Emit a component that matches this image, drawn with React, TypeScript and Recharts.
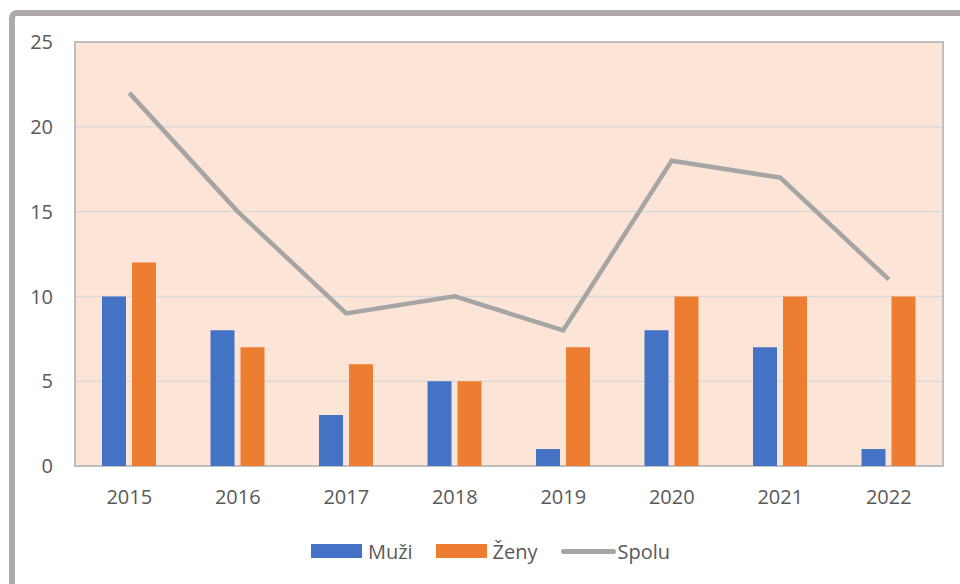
import React from 'react';
import * as R from 'recharts';
import { ComposedChart, Bar, Line, XAxis, YAxis, CartesianGrid, Legend } from 'recharts';

const years = ['2015', '2016', '2017', '2018', '2019', '2020', '2021', '2022'];
const muzi = [10, 8, 3, 5, 1, 8, 7, 1];
const zeny = [12, 7, 6, 5, 7, 10, 10, 10];
const spolu = [22, 15, 9, 10, 8, 18, 17, 11];
const yTicks = [0, 5, 10, 15, 20, 25];
const seriesNames = ['Muži', 'Ženy', 'Spolu'];

const data = years.map((y, i) => ({ year: y, [seriesNames[0]]: muzi[i], [seriesNames[1]]: zeny[i], [seriesNames[2]]: spolu[i] }));

const FONT = '"Open Sans", "Noto Sans", sans-serif';
const TEXT = '#595959';

function PlotFrame() {
  const hook = (R as any).usePlotArea;
  const area = hook ? hook() : undefined;
  if (!area) return null;
  return (
    <rect x={area.x} y={area.y} width={area.width} height={area.height} fill="none" stroke="#BFBFBF" strokeWidth={2} />
  );
}

const renderLegend = (props: any) => {
  const payload = [...(props.payload || [])].sort(
    (a: any, b: any) => seriesNames.indexOf(a.value) - seriesNames.indexOf(b.value)
  );
  return (
    <div style={{ display: 'flex', justifyContent: 'center', alignItems: 'center', height: 24, paddingLeft: 38, fontFamily: FONT, fontSize: 20, color: TEXT }}>
      {payload.map((p: any, i: number) => (
        <div key={p.value} style={{ display: 'flex', alignItems: 'center', marginRight: i < payload.length - 1 ? 23 : 0 }}>
          {p.type === 'line' ? (
            <div style={{ width: 55, height: 5, borderRadius: 3, background: p.color }} />
          ) : (
            <div style={{ width: 51, height: 14, background: p.color }} />
          )}
          <span style={{ marginLeft: p.type === 'line' ? 2 : 6 }}>{p.value}</span>
        </div>
      ))}
    </div>
  );
};

export default function App() {
  return (
    <div style={{ position: 'absolute', left: 0, top: 0, width: 960, height: 584, overflow: 'hidden', background: '#fff' }}>
      <div style={{ position: 'absolute', left: 9, top: 10, width: 1000, height: 700, border: '6px solid #ADA9A8', borderRadius: 8, boxSizing: 'border-box' }} />
      <div style={{ position: 'absolute', left: 0, top: 0 }}>
        <ComposedChart width={960} height={584} data={data} margin={{ top: 42, right: 17, left: 0, bottom: 21 }} barGap={6} barCategoryGap="25%">
          <CartesianGrid vertical={false} fill="#FCE4D6" stroke="#D9D9D9" strokeWidth={1.5} />
          <XAxis dataKey="year" height={73} axisLine={false} tickLine={false} tickMargin={18} tick={{ fill: TEXT, fontSize: 20, fontFamily: FONT }} interval={0} />
          <YAxis width={75} domain={[0, 25]} ticks={yTicks} axisLine={false} tickLine={false} tickMargin={16} tick={{ fill: TEXT, fontSize: 20, fontFamily: FONT }} interval={0} />
          <Bar dataKey={seriesNames[0]} fill="#4472C4" barSize={24} isAnimationActive={false} />
          <Bar dataKey={seriesNames[1]} fill="#ED7D31" barSize={24} isAnimationActive={false} />
          <Line dataKey={seriesNames[2]} stroke="#A5A5A5" strokeWidth={4.5} dot={false} activeDot={false} type="linear" isAnimationActive={false} />
          <PlotFrame />
          <Legend verticalAlign="bottom" content={renderLegend} />
        </ComposedChart>
      </div>
    </div>
  );
}
